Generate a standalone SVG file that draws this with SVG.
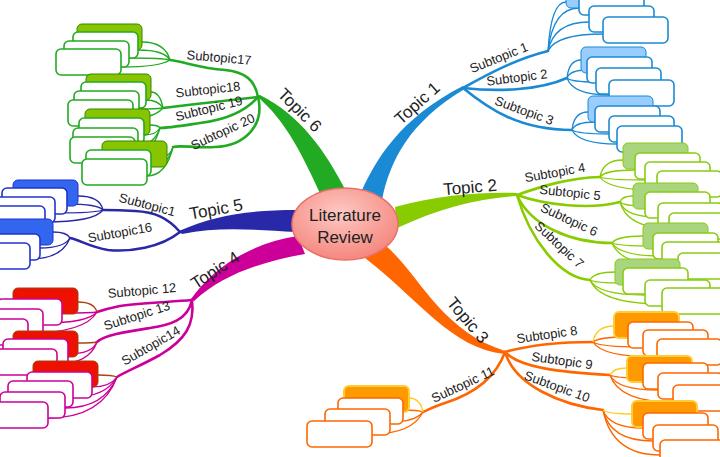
<svg xmlns="http://www.w3.org/2000/svg" width="720" height="457" viewBox="0 0 720 457">
<defs>
<radialGradient id="eg" cx="45%" cy="35%" r="65%">
<stop offset="0" stop-color="#fdc9c3"/>
<stop offset="1" stop-color="#f5877e"/>
</radialGradient>
<rect id="bx" width="65" height="26" rx="5"/>
</defs>
<style>
.t{font-family:"Liberation Sans",Arial,sans-serif;fill:#222;text-anchor:middle}
.tp{font-size:17px}
.st{font-size:13px}
.sub{fill:none;stroke-width:2.6;stroke-linecap:round}
.fan{fill:none;stroke-width:1.3}
.b{fill:#fff;stroke-width:1.6}
.c1{stroke:#1a8ad4}.c2{stroke:#88cc00}.c3{stroke:#ff6600}.c4{stroke:#cc0099}.c5{stroke:#2828a8}.c6{stroke:#22aa22}
.y{stroke:#ffcc22}.br{stroke:#aa4411}
.f1{fill:#99ccff;stroke:#1a8ad4}.f2{fill:#a9d57e;stroke:#88cc11}.f3{fill:#ff9900;stroke:#ffcc33;stroke-width:2}
.f4{fill:#ee1100;stroke:#994411}.f5{fill:#3366ee;stroke:#2233cc}.f6{fill:#88c400;stroke:#2e8b00}
.w1{stroke:#1a8ad4}.w2{stroke:#88cc11}.w3{stroke:#ff6600}.w4{stroke:#cc0099}.w5{stroke:#2233cc}.w6{stroke:#22aa22}
</style>
<g id="connectors">
<path fill="#1a8ad4" d="M360,195 C375,160 400,118 463,86 L463,90 C410,122 390,160 382,200 Z"/>
<path fill="#88cc00" d="M395,207 C440,195 480,192 517,193 L517,196 C480,198 440,208 397,228 Z"/>
<path fill="#ff6600" d="M385,245 C420,275 440,330 505,351 L505,354 C450,348 420,300 365,258 Z"/>
<path fill="#cc0099" d="M298,236 C255,242 215,265 191,299 L194,301 C222,275 260,262 305,254 Z"/>
<path fill="#2828a8" d="M297,210 C250,210 215,215 179,231 L182,234 C220,226 255,230 296,232 Z"/>
<path fill="#22aa22" d="M322,198 C305,160 285,118 256,96 L260,95 C300,115 325,150 347,193 Z"/>
<g class="sub c1">
<path d="M463,88 C495,70 520,58 548,51"/>
<path d="M463,88 C500,92 540,90 567,78"/>
<path d="M463,88 C490,110 520,130 572,130"/>
</g>
<g class="sub c2">
<path d="M517,195 C545,185 570,178 600,177"/>
<path d="M517,195 C545,205 590,210 620,202"/>
<path d="M517,195 C530,225 570,243 612,243"/>
<path d="M517,195 C530,240 560,278 590,280"/>
</g>
<g class="sub c3">
<path d="M505,352 C530,345 560,342 593,342"/>
<path d="M505,352 C520,368 560,372 610,375"/>
<path d="M505,352 C515,385 560,405 603,410"/>
<path d="M505,352 C495,380 470,395 445,403 C435,406 428,410 423,412"/>
</g>
<g class="sub c4">
<path d="M192,300 C170,302 140,303 120,306 C110,308 103,310 97,312"/>
<path d="M192,300 C188,320 170,325 150,328 C125,332 105,335 97,342"/>
<path d="M192,300 C195,325 185,340 160,355 C140,366 125,372 117,377"/>
</g>
<g class="sub c5">
<path d="M180,232 C168,218 155,212 135,211 C120,210 110,210 103,210"/>
<path d="M180,232 C160,248 130,252 108,250 C90,247 80,240 70,238"/>
</g>
<g class="sub c6">
<path d="M258,97 C255,80 245,72 225,70 C200,68 185,62 170,60"/>
<path d="M258,97 C230,100 195,104 163,108"/>
<path d="M258,97 C245,112 225,120 200,123 C180,126 168,128 160,128"/>
<path d="M258,97 C265,125 245,146 215,147 C195,148 180,145 173,147"/>
</g>
<g class="fan c1">
<path d="M548,51 Q551,2 566,2"/><path d="M548,51 Q553,8 579,8"/><path d="M548,51 Q554,22 589,22"/><path d="M548,51 Q556,34 603,34"/>
<path d="M567,78 Q569,60 581,60"/><path d="M567,78 Q570,70 587,70"/><path d="M567,78 Q571,82 596,82"/><path d="M567,78 Q573,95 609,95"/>
<path d="M572,130 Q574,112 588,112"/><path d="M572,130 Q575,122 595,122"/><path d="M572,130 Q578,134 609,134"/><path d="M572,130 Q579,144 617,144"/>
</g>
<g class="fan c2">
<path d="M600,177 Q603,160 623,160"/><path d="M600,177 Q605,170 635,170"/><path d="M600,177 Q607,180 645,180"/><path d="M600,177 Q608,190 657,190"/>
<path d="M620,202 Q622,196 633,196"/><path d="M620,202 Q624,206 645,206"/><path d="M620,202 Q625,217 658,217"/><path d="M620,202 Q627,228 669,228"/>
<path d="M612,243 Q617,236 643,236"/><path d="M612,243 Q618,246 653,246"/><path d="M612,243 Q620,256 662,256"/><path d="M612,243 Q622,267 678,267"/>
<path d="M590,280 Q594,272 615,272"/><path d="M590,280 Q595,283 623,283"/><path d="M590,280 Q598,295 645,295"/><path d="M590,280 Q600,304 662,304"/>
</g>
<g class="fan c3">
<path d="M593,342 Q598,337 628,337"/><path d="M593,342 Q600,347 643,347"/><path d="M593,342 Q602,357 657,357"/>
<path d="M610,375 Q615,378 643,378"/><path d="M610,375 Q617,390 658,390"/><path d="M610,375 Q619,402 673,402"/>
<path d="M603,410 Q609,428 643,428"/><path d="M603,410 Q610,441 653,441"/><path d="M603,410 Q612,455 660,455"/>
<path d="M423,412 Q418,410 403,410"/><path d="M423,412 Q415,422 390,422"/><path d="M423,412 Q412,434 372,434"/>
</g>
<g class="fan y">
<path d="M593,342 Q596,326 614,326"/><path d="M610,375 Q613,368 627,368"/><path d="M603,410 Q608,414 632,414"/><path d="M423,412 Q420,398 409,398"/>
</g>
<g class="fan c4">
<path d="M97,312 Q92,313 62,313"/><path d="M97,312 Q88,323 43,323"/><path d="M97,312 Q85,333 28,333"/>
<path d="M97,342 Q92,354 68,354"/><path d="M97,342 Q89,364 57,364"/>
<path d="M117,377 Q110,387 92,387"/><path d="M117,377 Q106,397 73,397"/><path d="M117,377 Q104,408 65,408"/><path d="M117,377 Q102,418 48,418"/>
</g>
<g class="fan br">
<path d="M97,312 Q94,302 78,302"/><path d="M97,342 Q92,343 78,343"/><path d="M117,377 Q112,375 98,375"/>
</g>
<g class="fan c5">
<path d="M103,210 Q100,196 78,196"/><path d="M103,210 Q98,204 67,204"/><path d="M103,210 Q96,213 55,213"/><path d="M103,210 Q94,222 45,222"/>
<path d="M70,238 Q67,232 53,232"/><path d="M70,238 Q64,248 40,248"/><path d="M70,238 Q62,259 30,259"/>
</g>
<g class="fan c6">
<path d="M170,60 Q165,42 142,42"/><path d="M170,60 Q164,50 138,50"/><path d="M170,60 Q162,58 129,58"/><path d="M170,60 Q160,67 121,67"/>
<path d="M163,108 Q160,92 151,92"/><path d="M163,108 Q158,100 146,100"/><path d="M163,108 Q156,109 139,109"/><path d="M163,108 Q154,118 133,118"/>
<path d="M160,128 Q158,125 150,125"/><path d="M160,128 Q156,135 144,135"/><path d="M160,128 Q154,145 138,145"/><path d="M160,128 Q152,155 135,155"/>
<path d="M173,147 Q170,155 167,155"/><path d="M173,147 Q168,166 151,166"/><path d="M173,147 Q166,176 147,176"/>
</g>
</g>

<g id="center">
<ellipse cx="345" cy="224" rx="53" ry="36" fill="url(#eg)" stroke="#e8706a" stroke-width="1.5"/>
<text class="t" x="345" y="221" font-size="17">Literature</text>
<text class="t" x="345" y="243" font-size="17">Review</text>
</g>

<g id="topic1"><text class="t tp" transform="translate(417,103) rotate(-42)" y="6">Topic 1</text></g>
<g id="topic2"><text class="t tp" transform="translate(470,187) rotate(-5)" y="6">Topic 2</text></g>
<g id="topic3"><text class="t tp" transform="translate(468,320) rotate(50)" y="6">Topic 3</text></g>
<g id="topic4"><text class="t tp" transform="translate(215,270) rotate(-33)" y="6">Topic 4</text></g>
<g id="topic5"><text class="t tp" transform="translate(216,209) rotate(-10)" y="6">Topic 5</text></g>
<g id="topic6"><text class="t tp" transform="translate(300,110) rotate(45)" y="6">Topic 6</text></g>

<g id="sub1">
<text class="t st" transform="translate(499,58) rotate(-22)" y="4">Subtopic 1</text>
<use href="#bx" class="f1" x="566" y="-18"/><use href="#bx" class="b w1" x="579" y="-11"/><use href="#bx" class="b w1" x="589" y="6"/><use href="#bx" class="b w1" x="603" y="17"/>
</g>
<g id="sub2">
<text class="t st" transform="translate(517,78) rotate(-7)" y="4">Subtopic 2</text>
<use href="#bx" class="f1" x="581" y="47"/><use href="#bx" class="b w1" x="587" y="57"/><use href="#bx" class="b w1" x="596" y="68"/><use href="#bx" class="b w1" x="609" y="80"/>
</g>
<g id="sub3">
<text class="t st" transform="translate(524,111) rotate(20)" y="4">Subtopic 3</text>
<use href="#bx" class="f1" x="588" y="96"/><use href="#bx" class="b w1" x="595" y="106"/><use href="#bx" class="b w1" x="609" y="116"/><use href="#bx" class="b w1" x="617" y="126"/>
</g>
<g id="sub4">
<text class="t st" transform="translate(555,173) rotate(-10)" y="4">Subtopic 4</text>
<use href="#bx" class="f2" x="623" y="143"/><use href="#bx" class="b w2" x="635" y="153"/><use href="#bx" class="b w2" x="645" y="162"/><use href="#bx" class="b w2" x="657" y="171"/>
</g>
<g id="sub5">
<text class="t st" transform="translate(570,193) rotate(6)" y="4">Subtopic 5</text>
<use href="#bx" class="f2" x="633" y="183"/><use href="#bx" class="b w2" x="645" y="192"/><use href="#bx" class="b w2" x="658" y="203"/><use href="#bx" class="b w2" x="669" y="213"/>
</g>
<g id="sub6">
<text class="t st" transform="translate(569,220) rotate(25)" y="4">Subtopic 6</text>
<use href="#bx" class="f2" x="643" y="223"/><use href="#bx" class="b w2" x="653" y="233"/><use href="#bx" class="b w2" x="662" y="242"/><use href="#bx" class="b w2" x="678" y="253"/>
</g>
<g id="sub7">
<text class="t st" transform="translate(559,245) rotate(43)" y="4">Subtopic 7</text>
<use href="#bx" class="f2" x="615" y="259"/><use href="#bx" class="b w2" x="623" y="268"/><use href="#bx" class="b w2" x="645" y="280"/><use href="#bx" class="b w2" x="662" y="288"/>
</g>
<g id="sub8">
<text class="t st" transform="translate(547,335) rotate(-8)" y="4">Subtopic 8</text>
<use href="#bx" class="f3" x="614" y="312"/><use href="#bx" class="b w3" x="628" y="322"/><use href="#bx" class="b w3" x="643" y="330"/><use href="#bx" class="b w3" x="657" y="339"/>
</g>
<g id="sub9">
<text class="t st" transform="translate(562,361) rotate(8)" y="4">Subtopic 9</text>
<use href="#bx" class="f3" x="627" y="356"/><use href="#bx" class="b w3" x="643" y="363"/><use href="#bx" class="b w3" x="658" y="373"/><use href="#bx" class="b w3" x="673" y="385"/>
</g>
<g id="sub10">
<text class="t st" transform="translate(557,387) rotate(20)" y="4">Subtopic 10</text>
<use href="#bx" class="f3" x="632" y="401"/><use href="#bx" class="b w3" x="643" y="413"/><use href="#bx" class="b w3" x="653" y="425"/><use href="#bx" class="b w3" x="660" y="440"/>
</g>
<g id="sub11">
<text class="t st" transform="translate(463,385) rotate(-25)" y="4">Subtopic 11</text>
<use href="#bx" class="f3" x="344" y="386"/><use href="#bx" class="b w3" x="338" y="398"/><use href="#bx" class="b w3" x="325" y="409"/><use href="#bx" class="b w3" x="307" y="421"/>
</g>
<g id="sub12">
<text class="t st" transform="translate(142,291) rotate(-5)" y="4">Subtopic 12</text>
<use href="#bx" class="f4" x="13" y="288"/><use href="#bx" class="b w4" x="-3" y="299"/><use href="#bx" class="b w4" x="-22" y="309"/><use href="#bx" class="b w4" x="-37" y="319"/>
</g>
<g id="sub13">
<text class="t st" transform="translate(137,316) rotate(-18)" y="4">Subtopic 13</text>
<use href="#bx" class="f4" x="13" y="331"/><use href="#bx" class="b w4" x="3" y="339"/><use href="#bx" class="b w4" x="-8" y="349"/>
</g>
<g id="sub14">
<text class="t st" transform="translate(151,346) rotate(-30)" y="4">Subtopic14</text>
<use href="#bx" class="f4" x="33" y="361"/><use href="#bx" class="b w4" x="27" y="372"/><use href="#bx" class="b w4" x="8" y="381"/><use href="#bx" class="b w4" x="0" y="392"/><use href="#bx" class="b w4" x="-17" y="402"/>
</g>
<g id="sub15">
<text class="t st" transform="translate(147,205) rotate(15)" y="4">Subtopic1</text>
<use href="#bx" class="f5" x="13" y="180"/><use href="#bx" class="b w5" x="2" y="188"/><use href="#bx" class="b w5" x="-10" y="197"/><use href="#bx" class="b w5" x="-20" y="206"/>
</g>
<g id="sub16">
<text class="t st" transform="translate(120,233) rotate(-10)" y="4">Subtopic16</text>
<use href="#bx" class="f5" x="-12" y="219"/><use href="#bx" class="b w5" x="-25" y="234"/><use href="#bx" class="b w5" x="-35" y="243"/>
</g>
<g id="sub17">
<text class="t st" transform="translate(219,58) rotate(5)" y="4">Subtopic17</text>
<use href="#bx" class="f6" x="77" y="24"/><use href="#bx" class="b w6" x="73" y="32"/><use href="#bx" class="b w6" x="64" y="41"/><use href="#bx" class="b w6" x="56" y="49"/>
</g>
<g id="sub18">
<text class="t st" transform="translate(208,90) rotate(-6)" y="4">Subtopic18</text>
<use href="#bx" class="f6" x="86" y="74"/><use href="#bx" class="b w6" x="81" y="82"/><use href="#bx" class="b w6" x="74" y="91"/><use href="#bx" class="b w6" x="68" y="100"/>
</g>
<g id="sub19">
<text class="t st" transform="translate(209,109) rotate(-14)" y="4">Subtopic 19</text>
<use href="#bx" class="f6" x="85" y="109"/><use href="#bx" class="b w6" x="79" y="118"/><use href="#bx" class="b w6" x="73" y="128"/><use href="#bx" class="b w6" x="70" y="137"/>
</g>
<g id="sub20">
<text class="t st" transform="translate(223,132) rotate(-25)" y="4">Subtopic 20</text>
<use href="#bx" class="f6" x="102" y="141"/><use href="#bx" class="b w6" x="86" y="150"/><use href="#bx" class="b w6" x="82" y="159"/>
</g>
</svg>
